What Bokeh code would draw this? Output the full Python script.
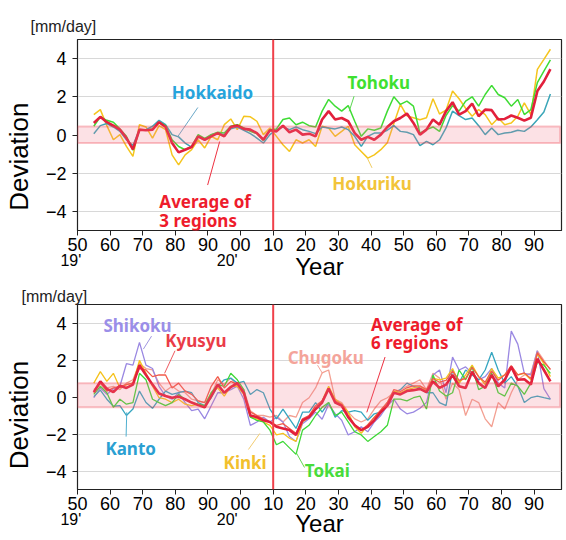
from bokeh.plotting import figure
from bokeh.models import Range1d, FixedTicker, LinearAxis, BoxAnnotation, Span, Label
from bokeh.layouts import column
from bokeh.embed import file_html
from bokeh.resources import INLINE

# ---------------- data ----------------
YEARS = list(range(1955, 2096, 2))
X_TICKS = list(range(1950, 2091, 10))
X_TICK_LABELS = {t: f"{t % 100:02d}" for t in X_TICKS}
CENTURY_TICKS = [1950, 2000]
CENTURY_LABELS = {1950: "19'", 2000: "20'"}
Y_TICKS = [-4, -2, 0, 2, 4]
BASE_YEAR = 2010

# upper panel (Hokkaido / Tohoku / Hokuriku)
hokkaido = [0.07, 0.49, 0.6, 0.42, 0.19, -0.25, -0.55, 0.28, 0.28, 0.46,
            0.77, 0.54, 0.02, -0.1, -0.42, -0.63, -0.1, -0.25, 0.02, 0.1,
            0.02, 0.32, 0.42, 0.25, 0.07, -0.16, -0.42, 0.02, 0.28, 0.42,
            0.28, 0.42, 0.28, 0.19, 0.07, 0.42, 0.37, 0.32, 0.42, 0.28,
            -0.07, -0.6, -0.07, 0.1, 0.1, 0.25, 0.49, 0.19, 0.14, 0.02,
            -0.56, -0.33, -0.51, -0.25, 0.37, 1.25, 1.02, 0.81, 0.89, 0.49,
            0.02, 0.37, 0.02, 0.1, 0.14, 0.25, 0.19, 0.42, 0.8, 1.2, 2.15]
tohoku = [0.46, 0.95, 0.77, 0.67, 0.32, -0.07, -0.8, 0.25, 0.25, 0.32,
          0.67, 0.49, -0.25, -0.6, -0.77, -0.6, 0.02, -0.18, 0.02, 0.14,
          0.1, 0.46, 0.54, 0.37, 0.19, 0.07, -0.28, 0.28, 0.32, 0.81,
          0.89, 0.54, 0.67, 0.49, 0.42, 1.25, 1.86, 1.51, 1.25, 1.54,
          0.72, -0.07, 0.32, 0.25, 0.37, 1.25, 2.0, 1.6, 1.77, 1.51,
          0.1, 0.28, 0.42, 0.19, 1.02, 1.54, 1.25, 1.77, 2.0, 1.51,
          2.12, 2.6, 2.12, 1.95, 1.51, 1.86, 1.07, 1.33, 2.74, 3.35, 3.93]
hokuriku = [1.07, 1.33, 0.49, -0.25, 0.02, -0.6, -1.12, 0.54, 0.42, -0.16,
            0.49, 0.28, -1.04, -1.56, -1.04, -0.77, -0.25, -0.68, -0.07, -0.25,
            0.54, 0.84, 0.28, 0.98, 0.95, 0.72, 0.02, 0.37, -0.07, -0.51,
            -0.86, -0.25, -0.42, -0.25, -0.6, 0.46, 0.37, -0.07, 0.19, 0.46,
            -0.51, -0.86, -1.21, -1.04, -0.77, -0.4, 0.6, 1.6, 1.0, 0.9,
            0.8, 0.9, 1.9, 1.1, 1.3, 2.3, 1.9, 1.4, 0.98, 1.33,
            1.07, 0.54, 0.89, 0.54, 0.63, 0.98, 1.68, 1.07, 3.44, 3.96, 4.49]
avg3 = [0.63, 0.95, 0.67, 0.49, 0.28, -0.16, -0.75, 0.28, 0.25, 0.28,
        0.67, 0.42, -0.42, -0.91, -0.77, -0.63, -0.07, -0.25, -0.07, 0.1,
        -0.07, 0.42, 0.49, 0.32, 0.28, 0.1, -0.25, 0.25, 0.19, 0.49,
        0.14, 0.28, 0.02, 0.07, -0.07, 0.81, 1.25, 0.81, 0.89, 0.72,
        0.1, -0.25, -0.1, -0.25, 0.02, 0.42, 0.72, 0.89, 1.12, 0.63,
        0.02, 0.28, 0.81, 0.54, 1.25, 1.72, 1.07, 1.25, 1.65, 0.98,
        1.33, 1.3, 0.81, 0.84, 1.02, 0.9, 0.75, 0.9, 2.3, 2.8, 3.45]
band3 = (-0.42, 0.45)

# lower panel (Kanto / Tokai / Kinki / Chugoku / Shikoku / Kyusyu)
kanto = [0.02, 0.37, -0.12, -0.5, -0.47, -1.0, -0.65, 0.32, -0.3, -0.61,
         -0.12, 0.32, 0.14, 0.23, 0.32, 0.23, -0.3, -0.47, -0.04, 0.58,
         0.93, 1.02, 0.75, 0.84, 0.14, 0.4, 0.23, -0.65, -1.18, -0.65,
         -1.18, -1.7, -0.82, -0.82, -0.3, -0.82, -0.3, -1.09, -0.74, -0.82,
         -0.74, -0.82, -1.26, -0.91, -0.82, -0.3, 0.23, 0.4, 0.75, 0.58,
         0.49, 0.23, 0.23, -0.3, -0.47, 1.46, 0.75, 1.46, 1.19, 0.93,
         1.46, 2.42, 1.46, 0.75, 1.1, 0.58, -0.3, -0.04, 0.05, -0.04, -0.12]
tokai = [0.14, 0.58, 0.23, -0.56, -0.12, -0.39, -0.3, 1.28, 0.93, -0.12,
         -0.3, -0.47, -0.3, 0.14, -0.12, -0.3, -0.39, -0.47, 0.23, 0.67,
         0.58, 1.28, 0.93, 0.4, -1.09, -1.26, -1.35, -1.79, -2.58, -2.4,
         -2.75, -3.1, -1.79, -1.53, -1.0, -0.56, -0.3, -1.0, -0.82, -1.35,
         -1.88, -2.05, -2.4, -2.14, -1.88, -1.53, -0.12, -0.12, -0.21, -0.04,
         0.05, -0.65, 1.19, 0.32, 0.05, 0.23, 1.46, 0.93, 1.63, 0.4,
         0.58, 1.28, 0.23, 0.05, 0.75, 0.58, 0.14, 0.75, 1.89, 1.72, 1.28]
kinki = [0.75, 1.37, 0.84, 1.28, 0.49, 0.67, 0.75, 1.98, 1.28, 0.58,
         -0.04, -0.12, -0.3, -0.12, -0.39, -0.47, -0.39, -0.56, 0.23, 0.49,
         0.05, 0.58, 0.58, 0.14, -1.09, -1.18, -1.35, -1.53, -2.05, -1.96,
         -2.23, -2.4, -1.35, -1.09, -0.65, -0.21, 0.58, -0.12, -0.39, -0.82,
         -1.61, -1.96, -1.53, -1.09, -0.74, -0.3, 0.32, 0.23, 0.4, 0.49,
         0.58, 0.32, 1.02, 0.93, 1.02, 1.54, 0.75, 1.19, 1.72, 1.1,
         0.67, 1.54, 1.02, 1.19, 1.63, 1.19, 1.28, 0.93, 2.33, 1.81, 1.1]
chugoku = [0.4, 0.75, 0.49, 0.58, 0.4, 0.75, 0.93, 1.81, 1.54, 1.46,
           0.75, 0.32, 0.58, 0.32, 0.23, -0.12, -0.21, -0.3, 0.14, 0.93,
           0.67, 1.02, 0.58, 0.4, -0.74, -1.0, -1.0, -1.09, -1.0, -1.35,
           -1.0, -1.09, -0.3, -0.04, 0.49, 1.3, 1.46, -0.12, -0.3, -0.82,
           -1.18, -1.35, -1.18, -0.65, -0.21, -0.04, 0.23, 0.4, 0.58, 0.75,
           0.93, 0.4, 1.28, 1.02, -0.12, 0.75, 0.4, -1.0, -0.12, -0.3,
           -1.18, -1.61, -0.3, -0.65, 0.23, 0.93, 1.19, 1.28, 2.5, 1.98, 1.46]
shikoku = [-0.04, 0.49, 0.14, 0.44, 0.58, 1.8, 1.72, 2.95, 1.72, 1.54,
           0.58, 0.05, -0.12, 0.23, -0.3, -0.74, -0.65, -1.18, -0.47, 0.23,
           0.23, 0.4, 0.58, -0.12, -1.53, -1.35, -1.09, -1.35, -1.09, -1.35,
           -2.14, -2.4, -1.44, -1.18, -0.82, -1.2, -0.4, -0.9, -1.26, -2.05,
           -1.88, -1.61, -1.88, -1.35, -1.0, -0.47, -0.12, -0.65, -0.91, -0.82,
           -0.61, -0.3, 1.19, 1.46, 0.23, 2.16, 1.46, 1.63, 1.28, 0.93,
           1.1, 1.54, 0.75, 0.49, 3.56, 2.86, 1.28, 1.19, 2.5, 0.45, -0.12]
kyusyu = [0.23, 0.75, 0.32, 0.49, 0.58, 0.67, 0.75, 1.54, 1.46, 1.1,
          1.19, 1.19, 0.49, 0.75, 0.32, 0.14, -0.21, -0.3, 0.58, 1.1,
          0.49, 0.84, 0.67, 0.23, -0.82, -1.0, -1.18, -1.35, -1.53, -1.44,
          -1.7, -1.96, -1.18, -1.0, -0.47, -0.2, 0.4, -0.2, -0.4, -1.0,
          -1.5, -1.8, -1.5, -1.1, -0.7, -0.3, 0.4, 0.3, 0.5, 0.6,
          0.6, 0.4, 1.0, 0.8, 0.9, 1.4, 0.9, 1.0, 1.6, 1.1,
          0.8, 1.4, 0.9, 1.2, 1.7, 1.2, 1.3, 1.0, 2.4, 1.9, 1.5]
avg6 = [0.26, 0.84, 0.44, 0.26, 0.61, 0.49, 0.67, 1.72, 1.19, 0.67,
        0.19, 0.05, -0.04, 0.02, -0.12, -0.3, -0.44, -0.56, 0.05, 0.67,
        0.23, 0.54, 0.75, 0.23, -1.0, -1.09, -1.26, -1.35, -1.61, -1.7,
        -1.79, -2.05, -1.26, -1.09, -0.65, -0.3, 0.45, -0.3, -0.47, -1.09,
        -1.53, -1.79, -1.61, -1.26, -0.82, -0.47, 0.23, 0.14, 0.32, 0.37,
        0.44, 0.26, 0.84, 0.49, 0.67, 1.19, 0.58, 0.49, 1.37, 0.75,
        0.49, 1.19, 0.58, 0.93, 1.63, 0.93, 0.96, 0.67, 2.07, 1.46, 0.84]
band6 = (-0.56, 0.75)

# ---------------- styling ----------------
C_AVG = "#e2203c"
TICK_FONT = "Liberation Sans"
LBL_FONT = "Noto Sans"

top_series = [  # (values, color, width)
    (hokuriku, "#f5c51e", 1.5),
    (hokkaido, "#3aa6b8", 1.5),
    (tohoku, "#3fdc34", 1.5),
    (avg3, C_AVG, 2.6),
]
bottom_series = [
    (chugoku, "#f3a092", 1.3),
    (shikoku, "#9a88e2", 1.3),
    (kanto, "#36a6c0", 1.3),
    (kinki, "#f5c21c", 1.3),
    (tokai, "#3fd838", 1.3),
    (kyusyu, "#f25a4a", 1.3),
    (avg6, C_AVG, 2.6),
]

# label text, x (year), y (deviation), color, align
top_labels = [
    ("Hokkaido", 1991.4, 2.23, "#26a4dc", "center"),
    ("Tohoku", 2042.4, 2.75, "#3fe030", "center"),
    ("Hokuriku", 2040.3, -2.56, "#f2c43a", "center"),
    ("Average of", 1975.1, -3.49, "#ee1c2c", "left"),
    ("3 regions", 1975.1, -4.46, "#ee1c2c", "left"),
]
top_leaders = [  # x0, y0, x1, y1, color
    (1986.9, 1.44, 1980.8, -0.07, "#6aa8c8"),
    (2034.8, 2.03, 2033.3, 1.24, "#5ad850"),
    (2040.3, -1.72, 2038.8, -1.19, "#f0cc60"),
    (1989.9, -2.62, 1993.6, -0.34, "#ee3040"),
]
bottom_labels = [
    ("Shikoku", 1968.4, 3.87, "#9a8ee8", "center"),
    ("Kyusyu", 1986.3, 3.03, "#ea3c48", "center"),
    ("Kanto", 1966.3, -2.76, "#2aa0d2", "center"),
    ("Kinki", 2001.4, -3.55, "#f2c02c", "center"),
    ("Tokai", 2026.6, -3.98, "#48dc3a", "center"),
    ("Chugoku", 2026.1, 2.16, "#f4a49a", "center"),
    ("Average of", 2040.0, 3.91, "#ee1c2c", "left"),
    ("6 regions", 2040.0, 2.95, "#ee1c2c", "left"),
]
bottom_leaders = [
    (1972.7, 3.29, 1970.2, 2.59, "#a096e0"),
    (1979.9, 2.5, 1976.7, 1.28, "#ee5a60"),
    (1964.9, -2.14, 1965.1, -0.83, "#50b0d0"),
    (2002.4, -2.84, 2005.9, -1.97, "#f2cc70"),
    (2019.6, -3.81, 2017.1, -3.02, "#60d850"),
    (2023.6, 1.72, 2025.1, 1.28, "#f4a49a"),
    (2044.3, 2.16, 2038.7, -0.83, "#ee3040"),
]

NB = "\u00a0"


def make_panel(series, band, labels, leaders, height, b_top, b_bottom, b_right,
               unit_offset, unit_standoff, dev_pad, year_standoff):
    p = figure(width=566, height=height,
               x_range=Range1d(1950, 2098.4), y_range=Range1d(-5, 5),
               output_backend="svg", toolbar_location=None,
               min_border_left=71, min_border_right=b_right,
               min_border_top=b_top, min_border_bottom=b_bottom)
    p.outline_line_color = "#222222"
    p.outline_line_width = 1.2
    p.background_fill_color = "white"
    p.border_fill_color = "white"

    # "[mm/day]" unit title
    p.title.text = "[mm/day]"
    p.title.align = "left"
    p.title.offset = unit_offset
    p.title.standoff = unit_standoff
    p.title.text_font = TICK_FONT
    p.title.text_font_size = "16px"
    p.title.text_font_style = "normal"
    p.title.text_color = "#222222"

    p.xgrid.visible = False
    p.ygrid.ticker = FixedTicker(ticks=[-4, -2, 2, 4])
    p.ygrid.grid_line_color = "#d8d8d8"
    p.ygrid.grid_line_width = 1

    xa = p.xaxis[0]
    xa.ticker = FixedTicker(ticks=X_TICKS)
    xa.major_label_overrides = X_TICK_LABELS
    ya = p.yaxis[0]
    ya.ticker = FixedTicker(ticks=Y_TICKS)
    for ax in (xa, ya):
        ax.major_label_text_font = TICK_FONT
        ax.major_label_text_font_size = "18px"
        ax.major_label_text_color = "black"
        ax.major_tick_out = 5
        ax.major_tick_in = 0
        ax.minor_tick_out = 0
        ax.minor_tick_in = 0
        ax.axis_line_color = "#222222"
        ax.major_tick_line_color = "#222222"
    xa.major_label_standoff = 2
    ya.major_label_standoff = 6
    ya.axis_label = "Deviation" + NB * dev_pad
    ya.axis_label_text_font = TICK_FONT
    ya.axis_label_text_font_size = "26px"
    ya.axis_label_text_font_style = "normal"
    ya.axis_label_text_color = "black"
    ya.axis_label_standoff = 9

    # century markers + "Year" label
    cen = LinearAxis(ticker=FixedTicker(ticks=CENTURY_TICKS),
                     major_label_overrides={1950: CENTURY_LABELS[1950] + NB * 3,
                                            2000: CENTURY_LABELS[2000] + NB * 6},
                     major_label_text_font=TICK_FONT, major_label_text_font_size="16px",
                     major_label_text_color="black", major_label_standoff=-2,
                     major_tick_out=0, major_tick_in=0, minor_tick_out=0, minor_tick_in=0,
                     axis_line_color=None, major_tick_line_color=None,
                     axis_label="Year", axis_label_text_font=TICK_FONT,
                     axis_label_text_font_size="24px", axis_label_text_font_style="normal",
                     axis_label_text_color="black", axis_label_standoff=year_standoff)
    p.add_layout(cen, "below")

    for vals, color, w in series:
        p.line(YEARS, vals, line_color=color, line_width=w)

    p.add_layout(BoxAnnotation(bottom=band[0], top=band[1], left=1950, right=2098,
                               fill_color="#f07888", fill_alpha=0.22,
                               line_color="#ee3a48", line_width=2))
    p.add_layout(Span(location=BASE_YEAR, dimension="height",
                      line_color="#f0404a", line_width=2))

    p.segment(x0=[l[0] for l in leaders], y0=[l[1] for l in leaders],
              x1=[l[2] for l in leaders], y1=[l[3] for l in leaders],
              line_color=[l[4] for l in leaders], line_width=1)

    for text, x, y, color, align in labels:
        p.add_layout(Label(x=x, y=y, text=text, text_color=color,
                           text_font=LBL_FONT, text_font_style="bold",
                           text_font_size="17px", text_align=align,
                           text_baseline="middle"))
    return p


p_top = make_panel(top_series, band3, top_labels, top_leaders, 285, 39, 55, 5,
                   unit_offset=-47, unit_standoff=10, dev_pad=6, year_standoff=-19)
p_bot = make_panel(bottom_series, band6, bottom_labels, bottom_leaders, 255, 14, 51, 2,
                   unit_offset=-56, unit_standoff=0, dev_pad=5, year_standoff=-21)

layout = column(p_top, p_bot, spacing=0)
open("out.html", "w").write(file_html(layout, INLINE))
